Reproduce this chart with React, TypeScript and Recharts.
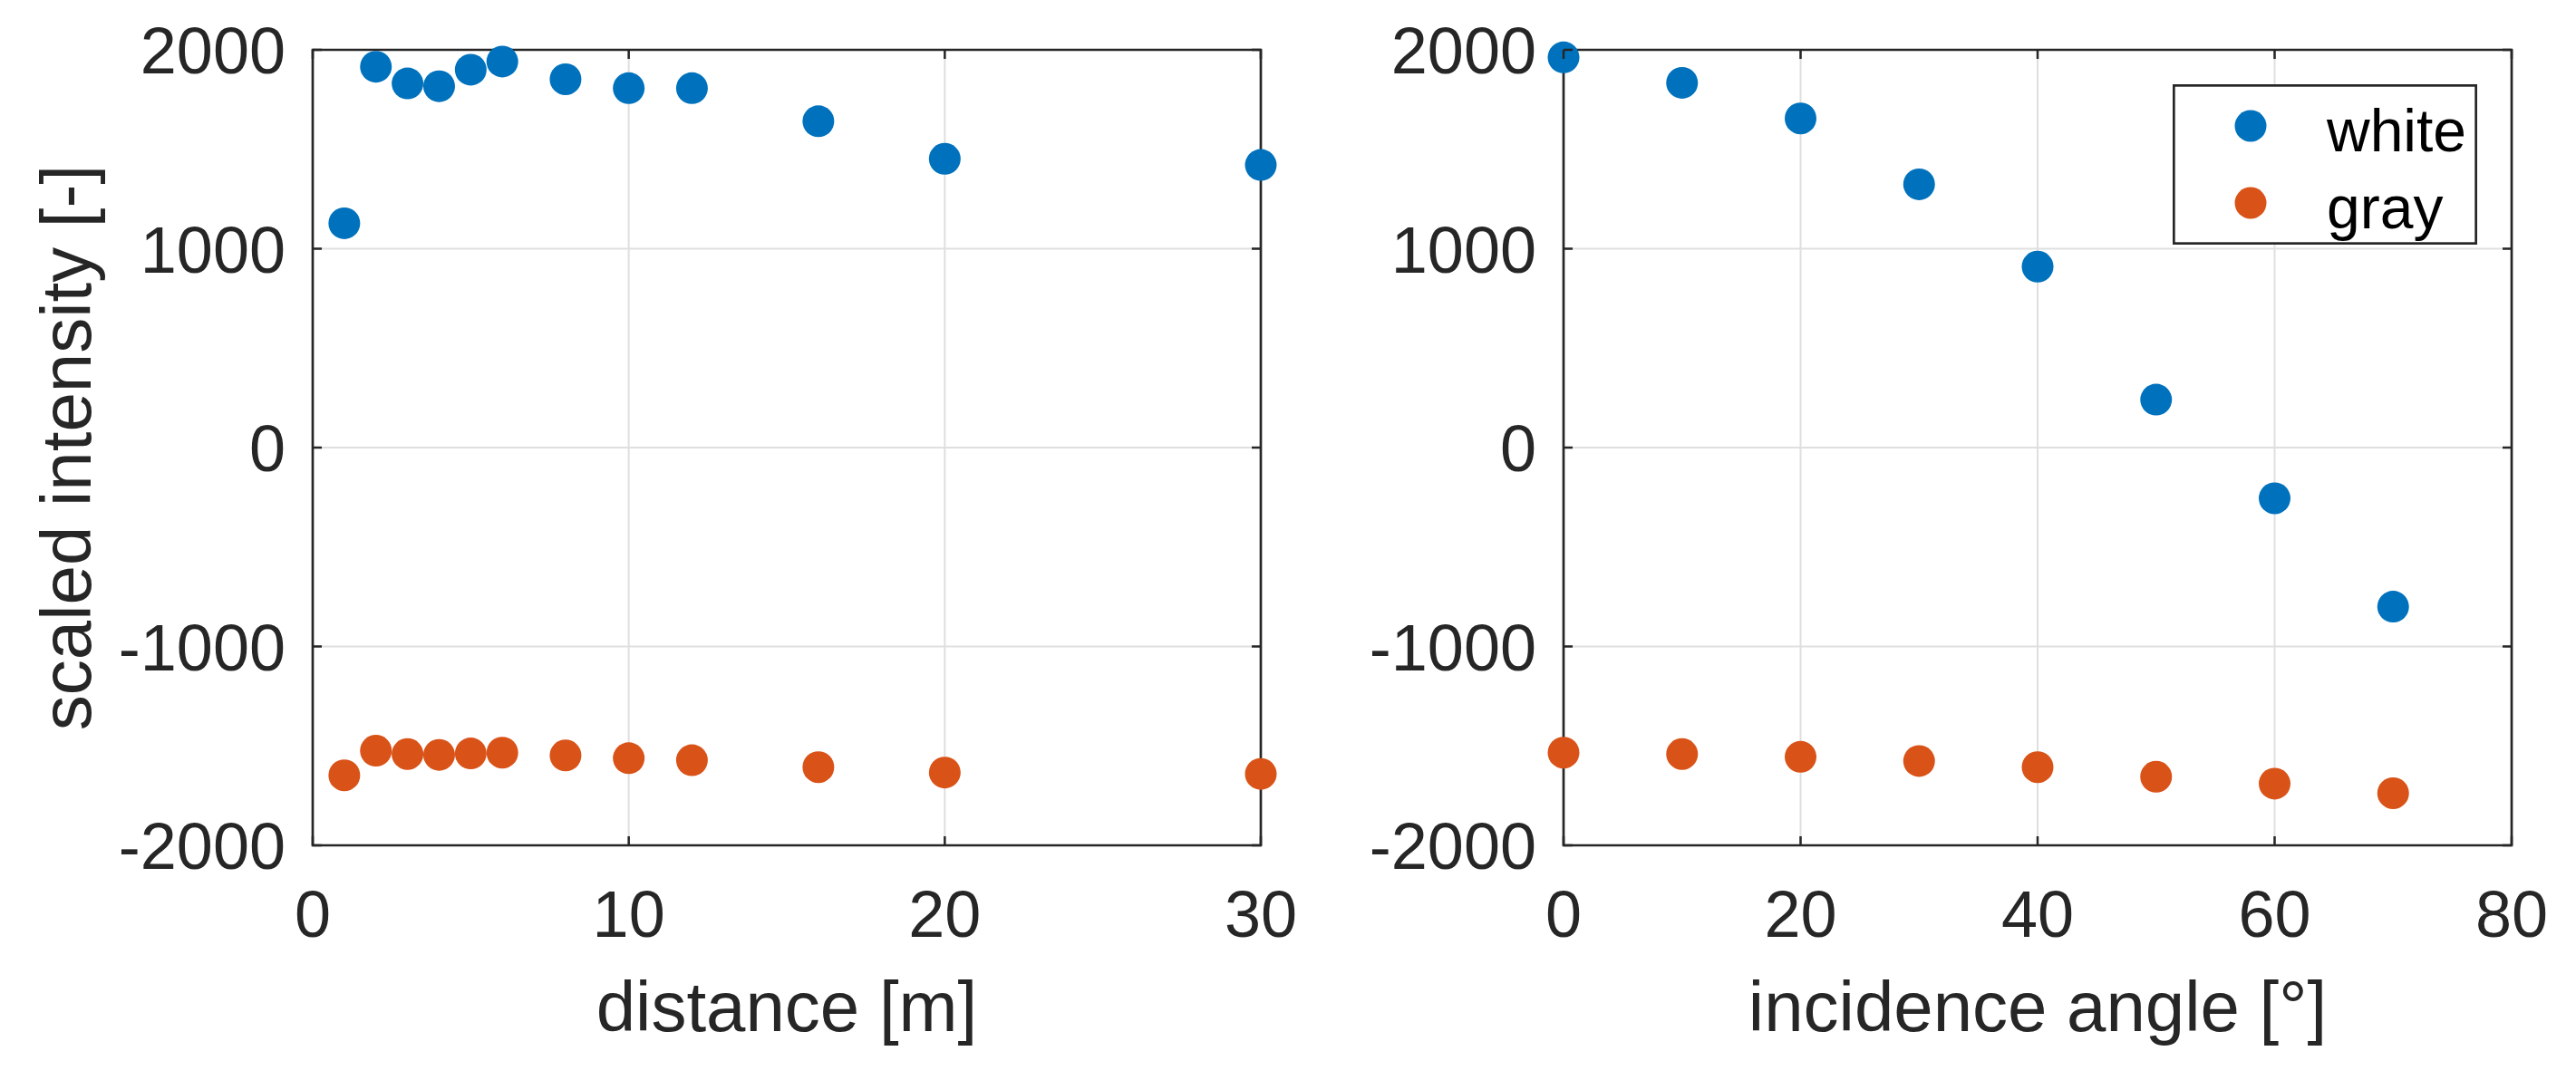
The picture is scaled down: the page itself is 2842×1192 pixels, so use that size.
import {
  ScatterChart,
  Scatter,
  XAxis,
  YAxis,
  CartesianGrid,
  ReferenceArea,
  Legend,
  Label,
} from "recharts";

// left panel: intensity vs distance
const distance = [1, 2, 3, 4, 5, 6, 8, 10, 12, 16, 20, 30];
const distanceWhite = [1128, 1915, 1831, 1817, 1900, 1941, 1852, 1807, 1807, 1641, 1452, 1421];
const distanceGray = [-1648, -1524, -1541, -1545, -1538, -1534, -1548, -1562, -1572, -1607, -1634, -1641];

// right panel: intensity vs incidence angle
const angle = [0, 10, 20, 30, 40, 50, 60, 70];
const angleWhite = [1962, 1834, 1655, 1324, 910, 241, -255, -800];
const angleGray = [-1534, -1541, -1555, -1576, -1607, -1655, -1690, -1738];

const seriesNames = ["white", "gray"];
const distanceTicks = [0, 10, 20, 30];
const angleTicks = [0, 20, 40, 60, 80];
const intensityTicks = [-2000, -1000, 0, 1000, 2000];

const toPoints = (xs: number[], ys: number[]) => xs.map((x, i) => ({ x, y: ys[i] }));

const H = 1192;
const TOP = 55;
const PLOT_W = 1046;
const PLOT_H = 878;
const FONT = '"Liberation Sans", Arial, Helvetica, sans-serif';
const INK = "#262626";
const BLUE = "#0072BD";
const ORANGE = "#D95319";

const Dot = (props: any) => <circle cx={props.cx} cy={props.cy} r={17.5} fill={props.fill} />;

const XTick = ({ x, y, payload }: any) => (
  <g>
    <line x1={x} y1={y} x2={x} y2={y - 10} stroke={INK} strokeWidth={2.5} />
    <line x1={x} y1={y - PLOT_H} x2={x} y2={y - PLOT_H + 10} stroke={INK} strokeWidth={2.5} />
    <text x={x} y={y + 101} textAnchor="middle" fontSize={72} fill={INK} fontFamily={FONT}>
      {payload.value}
    </text>
  </g>
);

const YTick = ({ x, y, payload }: any) => (
  <g>
    <line x1={x} y1={y} x2={x + 10} y2={y} stroke={INK} strokeWidth={2.5} />
    <line x1={x + PLOT_W} y1={y} x2={x + PLOT_W - 10} y2={y} stroke={INK} strokeWidth={2.5} />
    <text x={x - 30} y={y + 26} textAnchor="end" fontSize={72} fill={INK} fontFamily={FONT}>
      {payload.value}
    </text>
  </g>
);

const xLabel = (text: string) => (props: any) => {
  const vb = props.viewBox;
  return (
    <text x={vb.x + vb.width / 2} y={vb.y + 205} textAnchor="middle" fontSize={78} fill={INK} fontFamily={FONT}>
      {text}
    </text>
  );
};

const yLabel = (props: any) => {
  const vb = props.viewBox;
  return (
    <text
      transform={`translate(${vb.x + 100}, ${vb.y + vb.height / 2}) rotate(-90)`}
      textAnchor="middle"
      fontSize={78}
      fill={INK}
      fontFamily={FONT}
    >
      scaled intensity [-]
    </text>
  );
};

const LegendBox = ({ payload }: any) => {
  const items = seriesNames
    .map((n) => (payload || []).find((p: any) => p.value === n))
    .filter(Boolean);
  return (
    <svg width={336} height={177} style={{ display: "block" }}>
      <rect x={1.35} y={1.35} width={333.3} height={174.3} fill="#fff" stroke={INK} strokeWidth={2.7} />
      {items.map((p: any, i: number) => (
        <g key={p.value}>
          <circle cx={86} cy={46 + i * 85} r={17.5} fill={p.color} />
          <text x={170} y={46 + i * 85 + 28} fontSize={66} fill="#000" fontFamily={FONT}>
            {p.value}
          </text>
        </g>
      ))}
    </svg>
  );
};

type PanelProps = {
  left: number;
  width: number;
  yAxisWidth: number;
  xs: number[];
  white: number[];
  gray: number[];
  xTicks: number[];
  xMax: number;
  title: string;
  showYLabel: boolean;
  showLegend: boolean;
};

const Panel = (p: PanelProps) => (
  <div style={{ position: "absolute", left: p.left, top: 0 }}>
    <ScatterChart
      width={p.width}
      height={H}
      margin={{ top: TOP, right: p.width - p.yAxisWidth - PLOT_W, bottom: 0, left: 0 }}
    >
      <CartesianGrid stroke="#dfdfdf" strokeWidth={2} />
      <XAxis
        type="number"
        dataKey="x"
        domain={[0, p.xMax]}
        ticks={p.xTicks}
        height={H - TOP - PLOT_H}
        axisLine={false}
        tickSize={0}
        tickMargin={0}
        tick={<XTick />}
        interval={0}
      >
        <Label content={xLabel(p.title)} />
      </XAxis>
      <YAxis
        type="number"
        dataKey="y"
        domain={[-2000, 2000]}
        ticks={intensityTicks}
        width={p.yAxisWidth}
        axisLine={false}
        tickSize={0}
        tickMargin={0}
        tick={<YTick />}
        interval={0}
      >
        {p.showYLabel && <Label content={yLabel} />}
      </YAxis>
      <ReferenceArea
        x1={0}
        x2={p.xMax}
        y1={-2000}
        y2={2000}
        fill="none"
        fillOpacity={0}
        stroke={INK}
        strokeWidth={2.7}
      />
      <Scatter name="white" data={toPoints(p.xs, p.white)} fill={BLUE} shape={Dot} isAnimationActive={false} />
      <Scatter name="gray" data={toPoints(p.xs, p.gray)} fill={ORANGE} shape={Dot} isAnimationActive={false} />
      {p.showLegend && (
        <Legend
          layout="vertical"
          align="center"
          verticalAlign="middle"
          content={<LegendBox />}
          wrapperStyle={{ position: "absolute", left: 976, top: 93, width: 336, height: 177 }}
        />
      )}
    </ScatterChart>
  </div>
);

export default function App() {
  return (
    <div style={{ position: "absolute", left: 0, top: 0, width: 2842, height: H, background: "#fff" }}>
      <Panel
        left={0}
        width={1500}
        yAxisWidth={345}
        xs={distance}
        white={distanceWhite}
        gray={distanceGray}
        xTicks={distanceTicks}
        xMax={30}
        title="distance [m]"
        showYLabel
        showLegend={false}
      />
      <Panel
        left={1421}
        width={1421}
        yAxisWidth={304}
        xs={angle}
        white={angleWhite}
        gray={angleGray}
        xTicks={angleTicks}
        xMax={80}
        title="incidence angle [°]"
        showYLabel={false}
        showLegend
      />
    </div>
  );
}
